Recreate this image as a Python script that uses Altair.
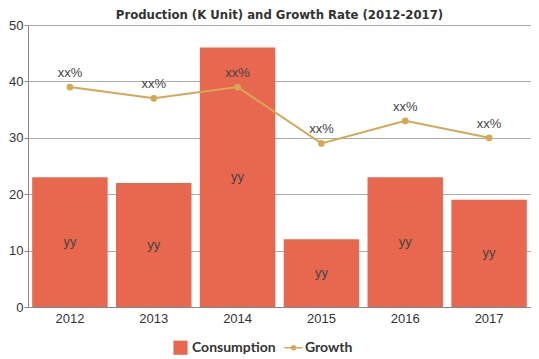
import altair as alt
import pandas as pd

years = ["2012", "2013", "2014", "2015", "2016", "2017"]
consumption = [23, 22, 46, 12, 23, 19]
growth = [39, 37, 39, 29, 33, 30]
bar_labels = ["yy"] * 6
line_labels = ["xx%"] * 6
series_names = ["Consumption", "Growth"]

df = pd.DataFrame({
    "year": years,
    "Consumption": consumption,
    "Growth": growth,
    "bl": bar_labels,
    "ll": line_labels,
})
df["half"] = df["Consumption"] / 2

# off-scale helper points, clipped away, used only to build the legend
leg_df = pd.DataFrame({"series": series_names, "year": [years[0], years[0]], "v": [-20, -20]})

BAR = "#E8684F"
LINE = "#D4A855"
LINE_SYMBOL = ("M-1.3,-0.1H1.3V0.1H-1.3Z "
               "M-0.4,0A0.4,0.4 0 1 1 0.4,0A0.4,0.4 0 1 1 -0.4,0Z")

x = alt.X("year:N", title=None,
          scale=alt.Scale(paddingInner=0.1, paddingOuter=0.05),
          axis=alt.Axis(labelAngle=0, labelFontSize=13, labelColor="#333",
                        domainColor="#888", ticks=False, labelPadding=5))
yscale = alt.Scale(domain=[0, 50])

bars = alt.Chart(df).mark_bar(color=BAR).encode(
    x=x,
    y=alt.Y("Consumption:Q", scale=yscale, title=None,
            axis=alt.Axis(values=[0, 10, 20, 30, 40, 50], labelFontSize=13,
                          labelColor="#333", domainColor="#888", tickColor="#888",
                          gridColor="#aaa", tickSize=4, labelPadding=1)),
)

bar_text = alt.Chart(df).mark_text(fontSize=13, color="#444").encode(
    x=x, y=alt.Y("half:Q", scale=yscale), text="bl:N")

line = alt.Chart(df).mark_line(color=LINE, strokeWidth=2,
                               point=alt.OverlayMarkDef(color=LINE, size=45, filled=True)).encode(
    x=x, y=alt.Y("Growth:Q", scale=yscale))

line_text = alt.Chart(df).mark_text(fontSize=13, color="#444", dy=-14).encode(
    x=x, y=alt.Y("Growth:Q", scale=yscale), text="ll:N")

legend_layer = alt.Chart(leg_df).mark_point(filled=True, clip=True, opacity=1).encode(
    x=x, y=alt.Y("v:Q", scale=yscale),
    color=alt.Color("series:N", scale=alt.Scale(domain=series_names, range=[BAR, LINE]),
                    legend=alt.Legend(orient="none", legendX=145, legendY=315,
                                      direction="horizontal", title=None,
                                      labelFontSize=14, labelFont="Lato",
                                      labelFontWeight="bold", labelColor="#333",
                                      symbolSize=200, symbolOpacity=1,
                                      symbolStrokeWidth=0, columnPadding=8)),
    shape=alt.Shape("series:N", scale=alt.Scale(domain=series_names,
                                                range=["square", LINE_SYMBOL])),
)

chart = alt.layer(bars, bar_text, line, line_text, legend_layer).properties(
    width=503, height=282,
    title=alt.TitleParams("Production (K Unit) and Growth Rate (2012-2017)",
                          font="DejaVu Sans Condensed", fontSize=13, fontWeight="bold",
                          color="#333", offset=-3, anchor="middle"),
).configure_view(stroke=None).configure(padding={"left": 0, "top": 1, "right": 0, "bottom": 0})

chart.save("out.html", embed_options={"renderer": "svg", "actions": False})
